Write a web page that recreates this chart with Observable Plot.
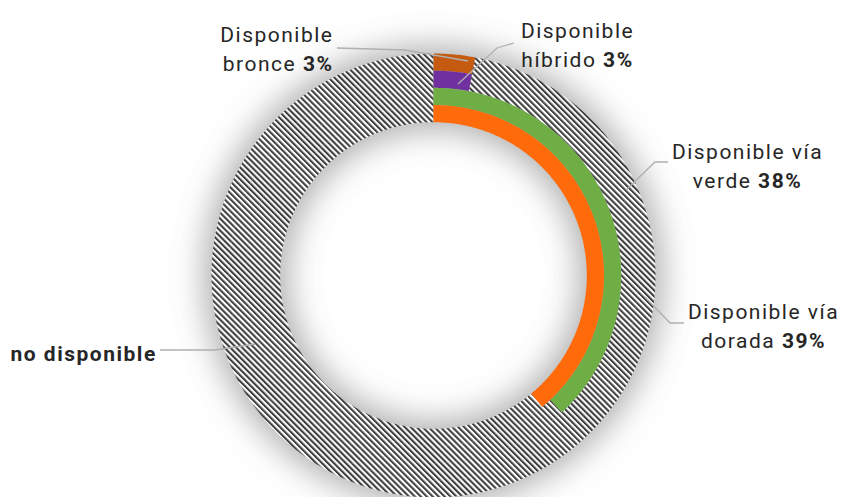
<!DOCTYPE html>
<html>
<head>
<meta charset="utf-8">
<script src="https://cdn.jsdelivr.net/npm/d3@7"></script>
<script src="https://cdn.jsdelivr.net/npm/@observablehq/plot@0.6"></script>
<style>
  body { margin: 0; background: #ffffff; }
  #chart svg { display: block; }
</style>
</head>
<body>
<div id="chart"></div>
<script>
// ---------- data (outermost ring first) ----------
const categories = ["Disponible bronce", "Disponible híbrido", "Disponible vía verde", "Disponible vía dorada"];
const values = [3, 3, 38, 39];               // percent available
const labelLines = [
  ["Disponible", "bronce 3%"],
  ["Disponible", "híbrido 3%"],
  ["Disponible vía", "verde 38%"],
  ["Disponible vía", "dorada 39%"]
];
const otherLabel = "no disponible";

// ---------- styling / layout ----------
const colors = ["#C55A11", "#7030A0", "#6FAE45", "#FF6A0A"];
const W = 841, H = 497;
const rInnerPx = 154, rOuterPx = 223;
const bandPx = (rOuterPx - rInnerPx) / categories.length;
const degPerPx = 1 / 3;                        // px radius -> angular distance on the sphere
const deg = px => px * degPerPx;
const frame = {left: 210, top: 53, right: 185, bottom: 0};
const labelLayout = [
  {x: 333, y: 47, anchor: "end"},
  {x: 577, y: 43, anchor: "middle"},
  {x: 747, y: 164, anchor: "middle"},
  {x: 763, y: 324, anchor: "middle"}
];
const otherLayout = {x: 10, y: 351, anchor: "start"};
const leaders = [
  [[337, 48], [405, 50], [468, 61]],
  [[514, 43], [497, 48], [458, 84]],
  [[668, 162], [655, 162], [626, 190]],
  [[684, 323], [670, 323], [645, 297]],
  [[160, 350], [215, 350], [255, 344]]
];

// ---------- geometry helpers ----------
const lonOf = t => 180 - 360 * t;              // clockwise from 12 o'clock
function ringPoly(t0, t1, r0, r1) {
  const n = Math.max(2, Math.ceil((t1 - t0) * 720));
  const outer = d3.range(n + 1).map(i => [lonOf(t0 + (t1 - t0) * i / n), 90 - deg(r1)]);
  const inner = d3.range(n + 1).map(i => [lonOf(t1 - (t1 - t0) * i / n), 90 - deg(r0)]);
  const ring = [...outer, ...inner, outer[0]];
  let g = {type: "Polygon", coordinates: [ring]};
  if (d3.geoArea(g) > 2 * Math.PI) g = {type: "Polygon", coordinates: [ring.slice().reverse()]};
  return g;
}

const rows = categories.map((c, i) => {
  const r1 = rOuterPx - i * bandPx, r0 = r1 - bandPx;
  const t = values[i] / 100;
  return {category: c, value: values[i], avail: ringPoly(0, t, r0, r1), rest: ringPoly(t, 1, r0, r1)};
});

const shadowRing = {type: "LineString",
  coordinates: d3.range(0, 361, 1).map(a => [a - 180, 90 - deg((rInnerPx + rOuterPx) / 2)])};

const textMark = (lines, L, weight) => Plot.text([lines.join("\n")], {
  text: d => d,
  frameAnchor: "top-left",
  dx: L.x - frame.left, dy: L.y - frame.top,
  textAnchor: L.anchor, lineAnchor: "middle", lineHeight: 1.38,
  fontSize: 21, fontWeight: weight, fill: "#262626"
});

const chart = Plot.plot({
  width: W, height: H,
  marginLeft: frame.left, marginRight: frame.right, marginTop: frame.top, marginBottom: frame.bottom,
  projection: {
    type: "azimuthal-equidistant",
    rotate: [0, -90],
    domain: d3.geoCircle().center([0, 90]).radius(deg(rOuterPx))()
  },
  color: {domain: categories, range: colors},
  style: {fontFamily: "Roboto, 'Open Sans', sans-serif", letterSpacing: "1.5px", background: "#ffffff"},
  marks: [
    Plot.geo([shadowRing], {stroke: "#6f6f6f", strokeWidth: 84, strokeOpacity: 0.55, fill: "none"}),
    Plot.geo(rows, {geometry: d => d.rest, fill: "url(#hatch)", stroke: "none"}),
    Plot.geo(rows, {geometry: d => d.avail, fill: d => d.category, stroke: "none"}),
    () => {
      const g = d3.create("svg:g").attr("fill", "none").attr("stroke", "#b0b0b0").attr("stroke-width", 1.3);
      for (const pts of leaders) g.append("path").attr("d", d3.line()(pts));
      return g.node();
    },
    ...labelLines.map((lines, i) => textMark(lines, labelLayout[i], "normal")),
    textMark([otherLabel], otherLayout, "bold")
  ]
});

// pattern + blur defs
const svg = d3.select(chart);
const defs = svg.insert("defs", ":first-child");
const pat = defs.append("pattern").attr("id", "hatch").attr("patternUnits", "userSpaceOnUse")
  .attr("width", 4.2).attr("height", 10).attr("patternTransform", "rotate(-45)");
pat.append("rect").attr("width", 4.2).attr("height", 10).attr("fill", "#ffffff");
pat.append("rect").attr("width", 2.1).attr("height", 10).attr("fill", "#3f3f3f");
defs.append("filter").attr("id", "soft").attr("x", "-40%").attr("y", "-40%").attr("width", "180%").attr("height", "180%")
  .append("feGaussianBlur").attr("stdDeviation", 16);
svg.select('g[aria-label="geo"]').attr("filter", "url(#soft)");

// bold percentages
svg.selectAll("text tspan, text").each(function () {
  if (this.querySelector && this.querySelector("tspan")) return;
  const s = this.textContent;
  const m = s.match(/^(.*\s)(\d+%)$/);
  if (!m) return;
  this.textContent = m[1];
  d3.select(this).append("tspan").attr("font-weight", "bold").text(m[2]);
});

document.getElementById("chart").appendChild(chart);
</script>
</body>
</html>
